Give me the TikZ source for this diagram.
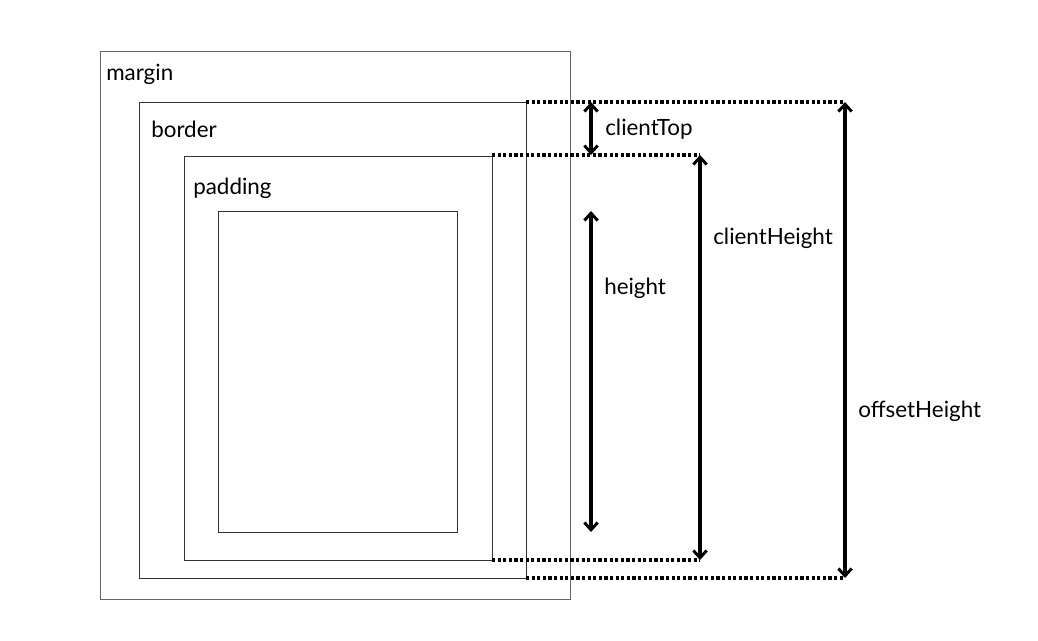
\documentclass[tikz,border=0pt]{standalone}
\usepackage{fontspec}
\setmainfont{Lato}
\usetikzlibrary{arrows.meta}
\definecolor{boxline}{HTML}{333333}
\definecolor{outerline}{HTML}{666666}
\begin{document}
\begin{tikzpicture}[x=0.75pt,y=-0.75pt,
  boxstyle/.style={draw=boxline,line width=0.7pt},
  dotline/.style={line width=2.4pt,dash pattern=on 2.4pt off 1.8pt},
  dimarrow/.style={line width=2.4pt,{Straight Barb[length=5.5pt,width=10pt,line width=2.2pt]}-{Straight Barb[length=5.5pt,width=10pt,line width=2.2pt]}},
  lbl/.style={anchor=west,inner sep=0pt,font=\fontsize{16.8}{20}\selectfont}]
\useasboundingbox (0,0) rectangle (1038,640);
\draw[boxstyle,draw=outerline] (100,51) rectangle (570,599);
\draw[boxstyle] (139,102) rectangle (526,578);
\draw[boxstyle] (184,156) rectangle (492,560);
\draw[boxstyle] (218,211) rectangle (457,532);
\node[lbl] (lm) at (106,74) {margin};
\node[lbl] (lb) at (151,129) {border};
\node[lbl] (lp) at (193,188) {padding};
\coordinate (bt0) at (526,102); \coordinate (bt1) at (845,102);
\coordinate (pt0) at (492,155); \coordinate (pt1) at (700,155);
\coordinate (pb0) at (492,560); \coordinate (pb1) at (700,560);
\coordinate (bb0) at (526,578); \coordinate (bb1) at (845,578);
\draw[dotline] (bt0) -- (bt1);
\draw[dotline] (pt0) -- (pt1);
\draw[dotline] (pb0) -- (pb1);
\draw[dotline] (bb0) -- (bb1);
\coordinate (ct0) at (591,102); \coordinate (ct1) at (591,155);
\coordinate (h0) at (591,211); \coordinate (h1) at (591,532);
\draw[dimarrow] (ct0) -- (ct1);
\draw[dimarrow] (h0) -- (h1);
\draw[dimarrow] (pt1) -- (pb1);
\draw[dimarrow] (bt1) -- (bb1);
\node[lbl] (lct) at (605,129) {clientTop};
\node[lbl] (lh) at (604,288) {height};
\node[lbl] (lch) at (713,238) {clientHeight};
\node[lbl] (loh) at (858,411) {offsetHeight};
\end{tikzpicture}
\end{document}
